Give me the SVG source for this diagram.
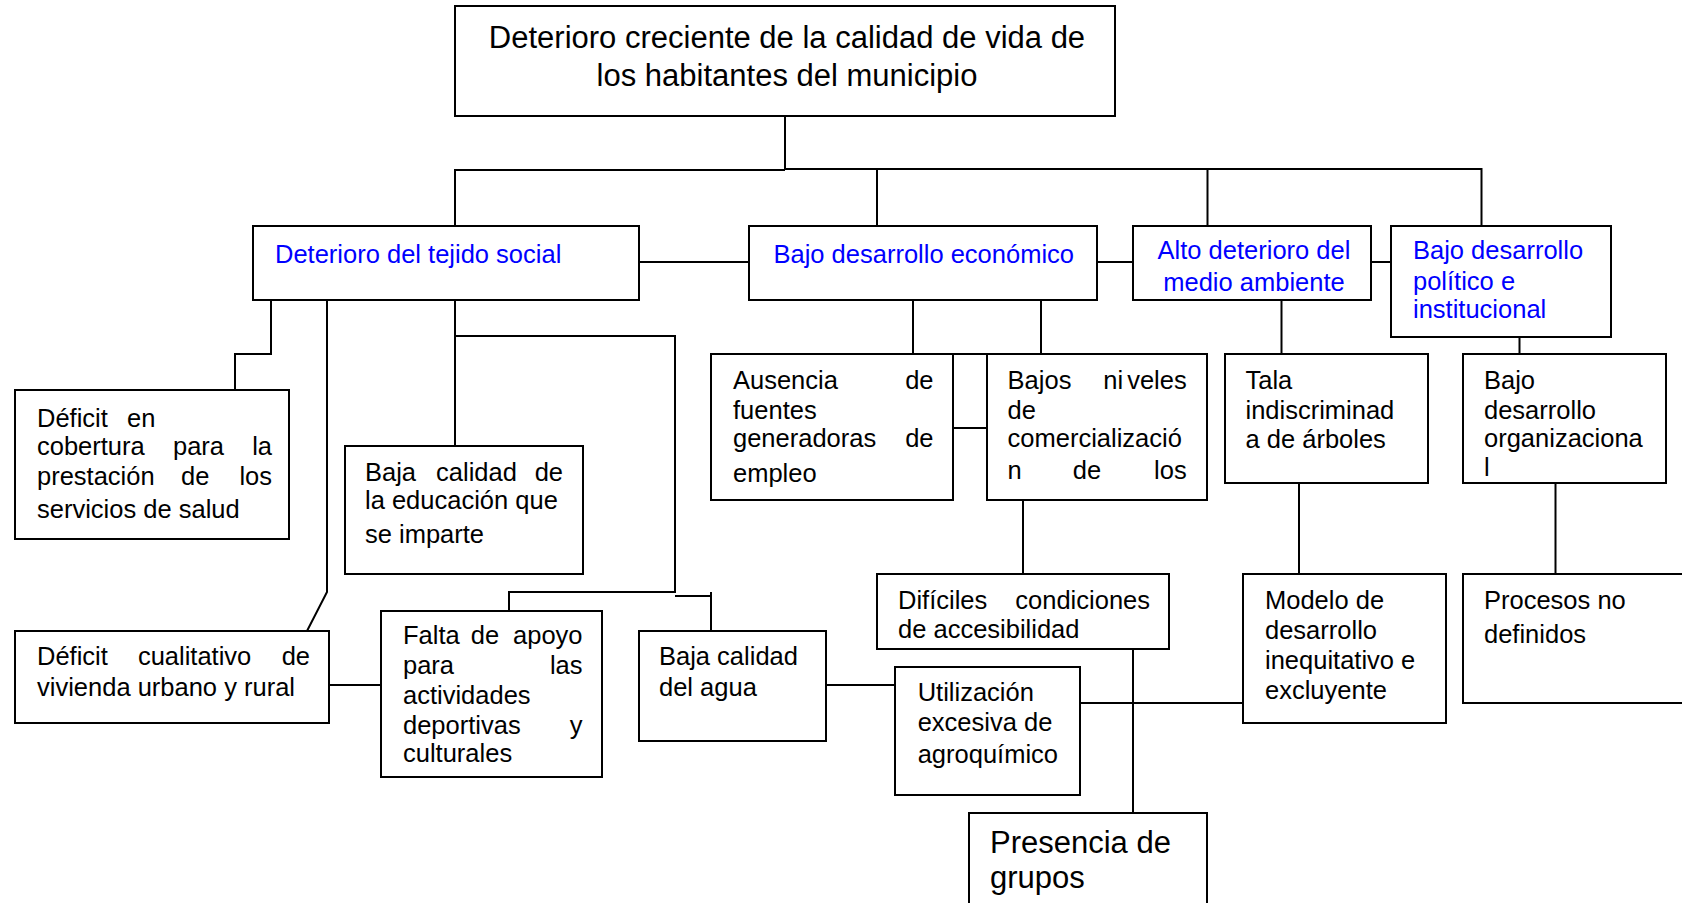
<svg xmlns="http://www.w3.org/2000/svg" width="1682" height="903" viewBox="0 0 1682 903">
<style>
.box{fill:#fff;stroke:#000;stroke-width:2}
.c{fill:none;stroke:#000;stroke-width:2}
text{font-family:"Liberation Sans",Arial,sans-serif;font-size:25.5px;fill:#000}
.b{fill:#0000ff}
.big{font-size:31px}
.e{text-anchor:end}
.m{text-anchor:middle}
</style>
<rect width="1682" height="903" fill="#fff"/>
<g id="connectors">
<polyline class="c" points="785,116 785,170"/>
<polyline class="c" points="455,226 455,170 785,170"/>
<polyline class="c" points="785,169 1481.5,169 1481.5,226"/>
<line class="c" x1="877" y1="169" x2="877" y2="226"/>
<line class="c" x1="1207.5" y1="169" x2="1207.5" y2="226"/>
<line class="c" x1="639" y1="262" x2="749" y2="262"/>
<line class="c" x1="1097" y1="262" x2="1133" y2="262"/>
<line class="c" x1="1371" y1="262" x2="1391" y2="262"/>
<polyline class="c" points="271,300 271,354 235,354 235,390"/>
<polyline class="c" points="327,300 327,592 307,631"/>
<line class="c" x1="455" y1="300" x2="455" y2="446"/>
<polyline class="c" points="455,336 675,336 675,592 509,592 509,611"/>
<line class="c" x1="675" y1="596" x2="711" y2="596"/>
<line class="c" x1="711" y1="592" x2="711" y2="631"/>
<line class="c" x1="913" y1="300" x2="913" y2="354"/>
<line class="c" x1="1041" y1="300" x2="1041" y2="354"/>
<line class="c" x1="953" y1="354" x2="987" y2="354"/>
<line class="c" x1="949" y1="428" x2="987" y2="428"/>
<line class="c" x1="1281.5" y1="300" x2="1281.5" y2="354"/>
<line class="c" x1="1519.5" y1="337" x2="1519.5" y2="354"/>
<line class="c" x1="1023" y1="500" x2="1023" y2="574"/>
<line class="c" x1="1299" y1="483" x2="1299" y2="574"/>
<line class="c" x1="1555.5" y1="483" x2="1555.5" y2="574"/>
<line class="c" x1="327" y1="685" x2="381" y2="685"/>
<line class="c" x1="822" y1="685" x2="895" y2="685"/>
<line class="c" x1="1133" y1="649" x2="1133" y2="813"/>
<line class="c" x1="1080" y1="703" x2="1243" y2="703"/>
</g>
<g id="n-top">
<rect class="box" x="455" y="6" width="660" height="110"/>
<text class="big m" x="787" y="48">Deterioro creciente de la calidad de vida de</text>
<text class="big m" x="787" y="85.5">los habitantes del municipio</text>
</g>
<g id="n-tejido">
<rect class="box" x="253" y="226" width="386" height="74"/>
<text class="b" x="275" y="263">Deterioro del tejido social</text>
</g>
<g id="n-economico">
<rect class="box" x="749" y="226" width="348" height="74"/>
<text class="b" x="773.5" y="263">Bajo desarrollo económico</text>
</g>
<g id="n-ambiente">
<rect class="box" x="1133" y="226" width="238" height="74"/>
<text class="b m" x="1254" y="259">Alto deterioro del</text>
<text class="b m" x="1254" y="291">medio ambiente</text>
</g>
<g id="n-politico">
<rect class="box" x="1391" y="226" width="220" height="111"/>
<text class="b" x="1413" y="259">Bajo desarrollo</text>
<text class="b" x="1413" y="290">político e</text>
<text class="b" x="1413" y="318">institucional</text>
</g>
<g id="n-cobertura">
<rect class="box" x="15" y="390" width="274" height="149"/>
<text x="37" y="427">Déficit</text><text x="127" y="427">en</text>
<text x="37" y="455">cobertura</text><text x="173" y="455">para</text><text class="e" x="272" y="455">la</text>
<text x="37" y="485">prestación</text><text x="181" y="485">de</text><text class="e" x="272" y="485">los</text>
<text x="37" y="518">servicios de salud</text>
</g>
<g id="n-educacion">
<rect class="box" x="345" y="446" width="238" height="128"/>
<text x="365" y="481">Baja</text><text class="m" x="476.5" y="481">calidad</text><text class="e" x="563" y="481">de</text>
<text x="365" y="509">la educación que</text>
<text x="365" y="543">se imparte</text>
</g>
<g id="n-cualitativo">
<rect class="box" x="15" y="631" width="314" height="92"/>
<text x="37" y="665">Déficit</text><text class="m" x="194.6" y="665">cualitativo</text><text class="e" x="310" y="665">de</text>
<text x="37" y="696">vivienda urbano y rural</text>
</g>
<g id="n-falta">
<rect class="box" x="381" y="611" width="221" height="166"/>
<text x="403" y="644">Falta</text><text class="m" x="485" y="644">de</text><text class="e" x="582.5" y="644">apoyo</text>
<text x="403" y="674">para</text><text class="e" x="582.5" y="674">las</text>
<text x="403" y="704">actividades</text>
<text x="403" y="734">deportivas</text><text class="e" x="582.5" y="734">y</text>
<text x="403" y="762">culturales</text>
</g>
<g id="n-agua">
<rect class="box" x="639" y="631" width="187" height="110"/>
<text x="659" y="665">Baja calidad</text>
<text x="659" y="696">del agua</text>
</g>
<g id="n-ausencia">
<rect class="box" x="711" y="354" width="242" height="146"/>
<text x="733" y="389">Ausencia</text><text class="e" x="933.5" y="389">de</text>
<text x="733" y="419">fuentes</text>
<text x="733" y="447">generadoras</text><text class="e" x="933.5" y="447">de</text>
<text x="733" y="482">empleo</text>
</g>
<g id="n-comercializacion">
<rect class="box" x="987" y="354" width="220" height="146"/>
<text x="1007.6" y="389">Bajos</text><text class="e" x="1186.7" y="389">ni<tspan dx="4">veles</tspan></text>
<text x="1007.6" y="419">de</text>
<text x="1007.6" y="447">comercializació</text>
<text x="1007.6" y="479">n</text><text class="m" x="1087" y="479">de</text><text class="e" x="1186.7" y="479">los</text>
</g>
<g id="n-tala">
<rect class="box" x="1225" y="354" width="203" height="129"/>
<text x="1245.5" y="389">Tala</text>
<text x="1245.5" y="419">indiscriminad</text>
<text x="1245.5" y="448">a de árboles</text>
</g>
<g id="n-organizacional">
<rect class="box" x="1463" y="354" width="203" height="129"/>
<text x="1484" y="389">Bajo</text>
<text x="1484" y="419">desarrollo</text>
<text x="1484" y="447">organizaciona</text>
<text x="1484" y="476">l</text>
</g>
<g id="n-dificiles">
<rect class="box" x="877" y="574" width="292" height="75"/>
<text x="898" y="609">Difíciles</text><text class="e" x="1150" y="609">condiciones</text>
<text x="898" y="638">de accesibilidad</text>
</g>
<g id="n-utilizacion">
<rect class="box" x="895" y="667" width="185" height="128"/>
<text x="917.7" y="701">Utilización</text>
<text x="917.7" y="731">excesiva de</text>
<text x="917.7" y="763">agroquímico</text>
</g>
<g id="n-modelo">
<rect class="box" x="1243" y="574" width="203" height="149"/>
<text x="1265" y="609">Modelo de</text>
<text x="1265" y="639">desarrollo</text>
<text x="1265" y="669">inequitativo e</text>
<text x="1265" y="699">excluyente</text>
</g>
<g id="n-procesos">
<rect class="box" x="1463" y="574" width="230" height="129"/>
<text x="1484" y="609">Procesos no</text>
<text x="1484" y="643">definidos</text>
</g>
<g id="n-presencia">
<rect class="box" x="969" y="813" width="238" height="100"/>
<text class="big" x="990" y="853">Presencia de</text>
<text class="big" x="990" y="888">grupos</text>
</g>
</svg>
